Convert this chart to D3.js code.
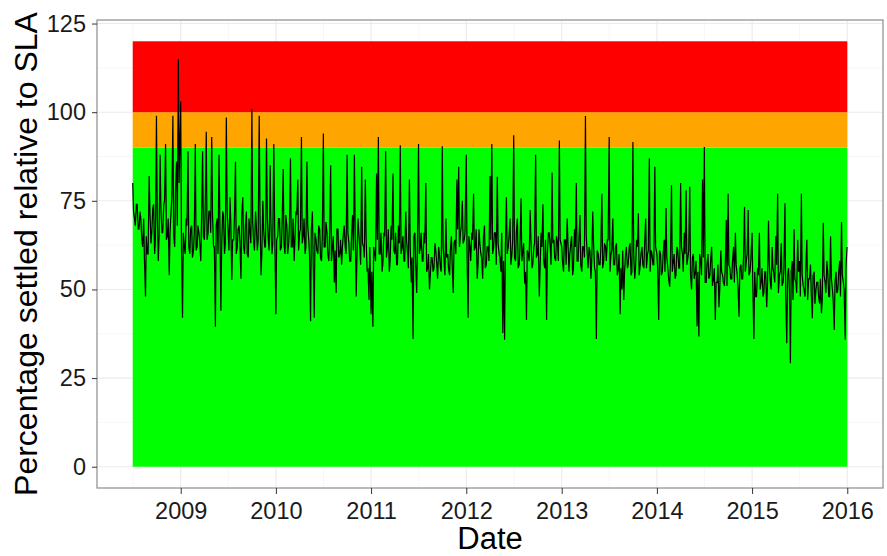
<!DOCTYPE html>
<html lang="en">
<head>
<meta charset="utf-8">
<title>Percentage settled relative to SLA</title>
<script src="https://cdnjs.cloudflare.com/ajax/libs/d3/7.8.5/d3.min.js"></script>
<style>
  body { margin: 0; background: #fff; }
  text { font-family: "Liberation Sans", Arial, sans-serif; }
  .axis path { display: none; }
  .axis line { stroke: #333; }
  .axis text { fill: #1a1a1a; font-size: 23.5px; }
</style>
</head>
<body>
<script>
// weekly readings (day 0, 7, 14 ... of each year; 2008 starts 1 July)
var v2008 = [80,70,74,67,72,64,70,48,60,82,63,73,60,99,58,88,66,74,91,65,54,72,99,62,86,115];
var v2009 = [103,42,62,70,89,60,68,61,91,62,66,58,89,64,94.5,66,72,93,62,39.5,70,88,44,72,60,98.5,66,76,52.7,64,86,62,68,53,76,60,72,59,66,101,63,72,61,99,54,75,62,92.6,64,85,60,91];
var v2010 = [43,65,70,62,84,60,68,63,87,62,58,72,81,66,93,65,60,86,64,41,72,42,64,60,67,58,94,62,66,58,85,62,52,49,67,60,57,66,62,88,63,58,71,88,48,70,61,84.6,62,81,55,47];
var v2011 = [43,39.5,60,82.7,93,60,55,66,89,62,55,68,82.7,60,57,68,90.7,62,58,72,60,81,52,36,66,49,91,62,58,66,80,56,50,59,55,63,57,62,56,90.4,58,70,60,54,65,49,64,81,84.6,66,75,64];
var v2012 = [88,42,62,66,77,62,53,67,60,53,68,57,62,82,91,62,66,81.8,60,55,37.7,35.8,76,62,70,60,93.5,58,70,57,75.7,61,51.6,41.4,60,72.4,56,62,88,60,48,66,74,56,41.4,66,62,83,64,58,63,92];
var v2013 = [62,55,64,70,55,63,54,67,80,58,71,55,62,98.9,60,62,53,72,56,36,60,57,77,58,62,64,93,60,70,57,63,56,43,50,47,60,56,62,54,91.6,53,64,71.5,57,62,56,70,60,87,61,57,84.6];
var v2014 = [60,41.4,60,55,64,73,56,50.8,79.4,58,53,62,56,80,60,66,78,59,79,50,60,55,39.6,36.7,58,81,90.2,52,60,54,62,53,41.4,52,45,61,54,51,69.6,77,56,53,62,66,54,42.3,57,53,73.3,58,72.4,55];
var v2015 = [66,36,48,56,66,52,48,55,45,69.4,52,62,54,65,77,54,63,52,74.3,34.8,56,29.2,58,67,52,64,58,77,51,48,64,53,57,41.9,55,50,52,46,43.3,68.8,52,58,48,65,50,38.6,55,50,58,69,52,35.8,62];

// mid-week readings (day 3, 10, 17 ...) taken along the dense band
var m2008 = [72,68,74,67,70,62,58,65,60,72,66,74,64,71,65,73,66,75,64,70,66,76,65,78,68,80];
var m2009 = [62,66,60,68,62,67,59,66,61,68,63,70,65,73,64,72,66,71,62,68,60,70,62,71,63,72,61,69,64,70,60,67,63,71,62,68,60,70,63,69,61,68,64,71,60,67,62,70,61,68,63,69];
var m2010 = [64,70,61,69,63,71,60,68,62,70,64,71,61,67,63,70,62,68,60,67,58,66,61,68,59,65,62,69,60,66,58,65,61,67,59,64,62,68,60,66,58,65,61,67,60,66,57,63,59,64,56,62];
var m2011 = [55,62,58,64,60,66,57,65,59,67,58,64,61,66,57,63,60,65,58,64,56,62,59,65,57,64,60,66,58,63,55,60,54,59,56,61,53,60,55,62,54,59,56,61,57,63,60,67,62,68,63,66];
var m2012 = [60,65,58,64,61,67,57,63,59,65,56,62,58,64,60,66,57,63,59,66,58,62,60,65,57,64,59,66,56,62,58,63,55,61,58,64,57,63,59,65,56,62,58,64,60,66,57,63,59,65,58,64];
var m2013 = [58,64,57,63,60,65,56,62,58,64,57,62,59,65,56,61,58,63,55,61,57,62,56,63,58,64,55,61,57,62,54,60,56,61,55,62,57,63,55,60,56,62,54,60,57,63,56,61,55,60,57,62];
var m2014 = [56,61,54,60,55,59,53,58,55,60,54,61,56,62,55,60,57,61,54,59,53,58,55,60,54,59,52,57,53,58,51,56,52,57,50,55,52,56,51,57,53,58,52,57,51,56,53,59,55,60,54,58];
var m2015 = [50,55,48,54,50,56,49,55,51,57,50,56,52,57,49,55,51,56,48,54,50,55,47,53,49,55,48,54,50,56,47,53,49,54,46,52,48,53,47,54,49,55,48,53,47,52,49,55,48,54,50,56];

var bandLimits = [[0, 90], [90, 100], [100, 120]];
var bandColors = ["#00ff00", "#ffa500", "#ff0000"];
var yTicks = [0, 25, 50, 75, 100, 125];
var xTickYears = [2009, 2010, 2011, 2012, 2013, 2014, 2015, 2016];
var bandStart = new Date(2008, 6, 1), bandEnd = new Date(2016, 0, 1);

var W = 887, H = 556;
var margin = {top: 20, right: 4, bottom: 68, left: 97};
var pw = W - margin.left - margin.right, ph = H - margin.top - margin.bottom;

var series = [];
[[2008, 6, v2008, m2008], [2009, 0, v2009, m2009], [2010, 0, v2010, m2010], [2011, 0, v2011, m2011],
 [2012, 0, v2012, m2012], [2013, 0, v2013, m2013], [2014, 0, v2014, m2014], [2015, 0, v2015, m2015]].forEach(function(yr) {
  var start = new Date(yr[0], yr[1], 1);
  yr[2].forEach(function(v, i) {
    series.push({date: d3.timeDay.offset(start, 7 * i), value: v});
    if (i < yr[3].length) series.push({date: d3.timeDay.offset(start, 7 * i + 3), value: yr[3][i]});
  });
});

var span = bandEnd - bandStart;
var x = d3.scaleTime()
    .domain([new Date(+bandStart - 0.05 * span), new Date(+bandEnd + 0.05 * span)])
    .range([0, pw]);
var y = d3.scaleLinear().domain([-6, 126]).range([ph, 0]);

var svg = d3.select("body").append("svg")
    .attr("width", W).attr("height", H)
  .append("g")
    .attr("transform", "translate(" + margin.left + "," + margin.top + ")");

// grid
var majorX = xTickYears.map(function(yy) { return new Date(yy, 0, 1); });
var minorX = d3.range(2008, 2016).map(function(yy) {
  return new Date((+new Date(yy, 0, 1) + +new Date(yy + 1, 0, 1)) / 2);
}).filter(function(d) { return d >= x.domain()[0] && d <= x.domain()[1]; });
var minorY = d3.range(12.5, 126, 25);

svg.append("g").selectAll("line").data(minorY).enter().append("line")
    .attr("x1", 0).attr("x2", pw)
    .attr("y1", function(d) { return y(d); }).attr("y2", function(d) { return y(d); })
    .style("stroke", "#f2f2f2").style("stroke-width", 0.6);
svg.append("g").selectAll("line").data(minorX).enter().append("line")
    .attr("y1", 0).attr("y2", ph)
    .attr("x1", function(d) { return x(d); }).attr("x2", function(d) { return x(d); })
    .style("stroke", "#f2f2f2").style("stroke-width", 0.6);
svg.append("g").selectAll("line").data(yTicks).enter().append("line")
    .attr("x1", 0).attr("x2", pw)
    .attr("y1", function(d) { return y(d); }).attr("y2", function(d) { return y(d); })
    .style("stroke", "#ebebeb").style("stroke-width", 1.1);
svg.append("g").selectAll("line").data(majorX).enter().append("line")
    .attr("y1", 0).attr("y2", ph)
    .attr("x1", function(d) { return x(d); }).attr("x2", function(d) { return x(d); })
    .style("stroke", "#ebebeb").style("stroke-width", 1.1);

// SLA bands
svg.append("g").selectAll("rect").data(bandLimits).enter().append("rect")
    .attr("x", x(bandStart))
    .attr("width", x(bandEnd) - x(bandStart))
    .attr("y", function(d) { return y(d[1]); })
    .attr("height", function(d) { return y(d[0]) - y(d[1]); })
    .style("fill", function(d, i) { return bandColors[i]; });

// series
var line = d3.line()
    .x(function(d) { return x(d.date); })
    .y(function(d) { return y(d.value); });
svg.append("path").datum(series)
    .attr("d", line)
    .style("fill", "none").style("stroke", "#000").style("stroke-width", 1.2);

// panel border
svg.append("rect").attr("x", 0).attr("y", 0).attr("width", pw).attr("height", ph)
    .style("fill", "none").style("stroke", "#8c8c8c").style("stroke-width", 1.2);

// axes
svg.append("g").attr("class", "axis")
    .call(d3.axisLeft(y).tickValues(yTicks).tickSize(5).tickPadding(6));
svg.append("g").attr("class", "axis")
    .attr("transform", "translate(0," + ph + ")")
    .call(d3.axisBottom(x).tickValues(majorX).tickSize(6).tickPadding(8)
      .tickFormat(d3.timeFormat("%Y")));

svg.append("text")
    .attr("x", pw / 2).attr("y", ph + 61)
    .style("text-anchor", "middle").style("font-size", "31px").style("fill", "#000")
    .text("Date");
svg.append("text")
    .attr("transform", "translate(" + (37 - margin.left) + "," + (ph / 2) + ") rotate(-90)")
    .style("text-anchor", "middle").style("font-size", "32px").style("fill", "#000")
    .text("Percentage settled relative to SLA");
</script>
</body>
</html>
